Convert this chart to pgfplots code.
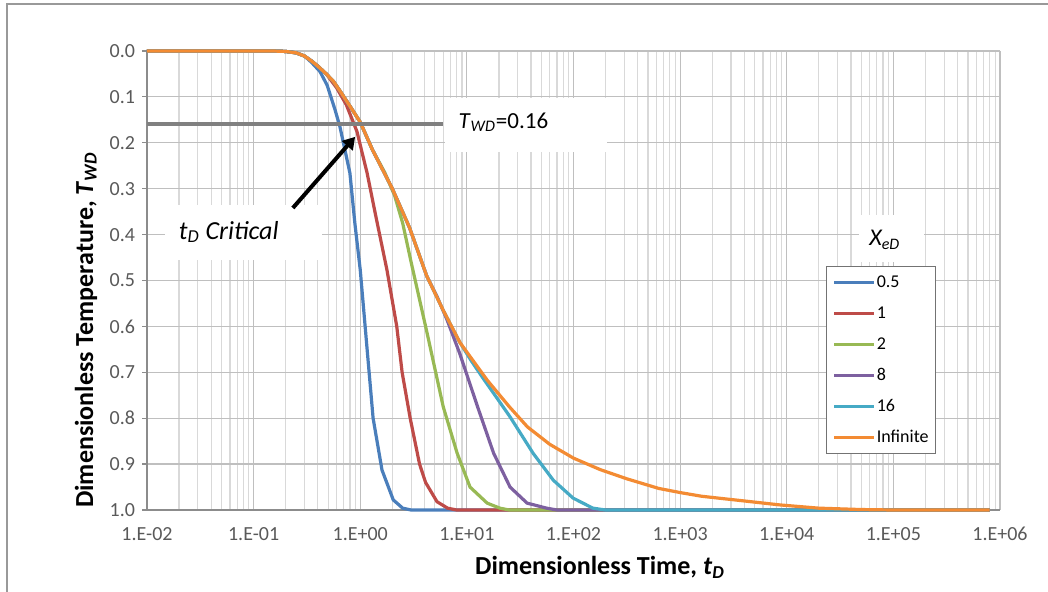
\documentclass[border=0pt]{standalone}
\usepackage{fontspec}
\setmainfont{Carlito}
\usepackage{pgfplots}
\pgfplotsset{compat=1.18}
\usetikzlibrary{arrows.meta}

\definecolor{sBlue}{HTML}{4A7EBB}
\definecolor{sRed}{HTML}{BE4B48}
\definecolor{sGreen}{HTML}{98B954}
\definecolor{sPurple}{HTML}{7D60A0}
\definecolor{sCyan}{HTML}{46AAC5}
\definecolor{sOrange}{HTML}{F38B33}
\definecolor{tickgray}{HTML}{595959}

\begin{document}
\begin{tikzpicture}
\useasboundingbox (0pt,0pt) rectangle (524pt,296pt);
\draw[black!40, line width=0.7pt] (3.5pt,0pt) -- (3.5pt,294pt) -- (524pt,294pt);
\begin{axis}[
  at={(73.5pt,41pt)}, anchor=south west,
  scale only axis, width=426.5pt, height=229.5pt,
  xmode=log, xmin=0.01, xmax=1e6,
  ymin=0, ymax=1, y dir=reverse,
  axis lines=left,
  axis line style={-, black!45, line width=0.7pt},
  xtick={1e-2,1e-1,1,1e1,1e2,1e3,1e4,1e5,1e6},
  xticklabels={1.E-02,1.E-01,1.E+00,1.E+01,1.E+02,1.E+03,1.E+04,1.E+05,1.E+06},
  minor xtick={0.02,0.03,0.04,0.05,0.06,0.07,0.08,0.09,
    0.2,0.3,0.4,0.5,0.6,0.7,0.8,0.9,2,3,4,5,6,7,8,9,
    20,30,40,50,60,70,80,90,200,300,400,500,600,700,800,900,
    2000,3000,4000,5000,6000,7000,8000,9000,
    20000,30000,40000,50000,60000,70000,80000,90000,
    200000,300000,400000,500000,600000,700000,800000,900000},
  ytick={0,0.1,0.2,0.3,0.4,0.5,0.6,0.7,0.8,0.9,1},
  yticklabels={0.0,0.1,0.2,0.3,0.4,0.5,0.6,0.7,0.8,0.9,1.0},
  tick label style={font=\fontsize{10}{11}\selectfont, text=tickgray},
  xticklabel style={yshift=-2.5pt},
  x tick style={draw=none},
  minor x tick style={draw=none},
  y tick style={black!45, line width=0.6pt},
  major tick length=2.5pt,
  tick align=outside,
  grid=both,
  major grid style={black!25, line width=0.6pt},
  minor grid style={black!15, line width=0.6pt},
  xlabel={Dimensionless Time, \textit{t}\textsubscript{\textit{D}}},
  ylabel={Dimensionless Temperature, \textit{T}\textsubscript{\textit{WD}}},
  label style={font=\fontsize{13}{15}\selectfont\bfseries},
  xlabel style={at={(axis description cs:0.531,-0.1416)}, anchor=base},
  ylabel style={at={(axis description cs:-0.0633,0.392)}, anchor=base},
  clip=false,
  legend style={at={(axis description cs:0.796,0.532)}, anchor=north west,
    draw=black!55, line width=0.6pt, font=\fontsize{9}{10}\selectfont,
    inner xsep=3pt, inner ysep=3.5pt, row sep=6.5pt,
    nodes={inner xsep=0.5pt, inner ysep=0pt, text height=7pt, text depth=2pt},
    cells={anchor=west}},
  legend image code/.code={\draw[#1] (0pt,0pt) -- (20pt,0pt);},
  every axis plot/.append style={line width=1.6pt},
]

\fill[white] (axis description cs:0.349,0.780) rectangle (axis description cs:0.539,0.898);
\fill[white] (axis description cs:0.021,0.545) rectangle (axis description cs:0.205,0.664);
\fill[white] (axis description cs:0.835,0.540) rectangle (axis description cs:0.911,0.643);

\addplot[sBlue] coordinates {(0.01,0) (0.1,0) (0.15,0) (0.2,0.001) (0.25,0.004) (0.3,0.011)
  (0.35,0.025) (0.42,0.045) (0.49,0.075) (0.58,0.128) (0.645,0.165) (0.8,0.266)
  (0.89,0.375) (1.0,0.477) (1.16,0.65) (1.32,0.8) (1.6,0.913) (2.04,0.978)
  (2.5,0.996) (3,1) (8e5,1)};
\addlegendentry{0.5}
\addplot[sRed] coordinates {(0.01,0) (0.1,0) (0.15,0) (0.2,0.001) (0.25,0.004) (0.3,0.011)
  (0.35,0.022) (0.4,0.033) (0.48,0.05) (0.6,0.08) (0.74,0.117) (0.93,0.175)
  (1.16,0.266) (1.4,0.36) (1.78,0.477) (2.2,0.6) (2.47,0.7) (2.94,0.8) (3.6,0.9)
  (4.1,0.94) (5.25,0.982) (6.6,0.996) (8,1) (8e5,1)};
\addlegendentry{1}
\addplot[sGreen] coordinates {(0.01,0) (0.1,0) (0.15,0) (0.2,0.001) (0.25,0.004) (0.3,0.011)
  (0.35,0.022) (0.4,0.033) (0.48,0.05) (0.56,0.066) (0.65,0.088) (0.8,0.12)
  (1.0,0.155) (1.3,0.215) (1.7,0.265) (2.1,0.315) (2.5,0.375) (3.0,0.46)
  (4.24,0.615) (6.0,0.775) (8.1,0.876) (10.7,0.95) (15.5,0.985) (20.4,0.996)
  (25,1) (8e5,1)};
\addlegendentry{2}
\addplot[sPurple] coordinates {(0.01,0) (0.1,0) (0.15,0) (0.2,0.001) (0.25,0.004) (0.3,0.011)
  (0.35,0.022) (0.4,0.033) (0.48,0.05) (0.56,0.066) (0.65,0.088) (0.8,0.12)
  (1.0,0.155) (1.3,0.215) (2.0,0.30) (2.9,0.385) (4.2,0.49) (5.25,0.535)
  (6.5,0.585) (8.6,0.66) (12.6,0.775) (17.8,0.876) (25.4,0.95) (36.7,0.985)
  (56,0.996) (70,1) (8e5,1)};
\addlegendentry{8}
\addplot[sCyan] coordinates {(0.01,0) (0.1,0) (0.15,0) (0.2,0.001) (0.25,0.004) (0.3,0.011)
  (0.35,0.022) (0.4,0.033) (0.48,0.05) (0.56,0.066) (0.65,0.088) (0.8,0.12)
  (1.0,0.155) (1.3,0.215) (2.0,0.30) (2.9,0.385) (4.2,0.49) (6,0.565) (8.6,0.635)
  (11,0.675) (14.1,0.712) (19,0.755) (25.4,0.797) (41.7,0.876) (64.6,0.935)
  (99,0.974) (152,0.996) (200,1) (8e5,1)};
\addlegendentry{16}
\addplot[sOrange] coordinates {(0.01,0) (0.1,0) (0.15,0) (0.2,0.001) (0.25,0.004) (0.3,0.011)
  (0.35,0.022) (0.4,0.033) (0.48,0.05) (0.56,0.066) (0.65,0.088) (0.8,0.12)
  (1.0,0.155) (1.3,0.215) (2.0,0.30) (2.9,0.385) (4.2,0.49) (6,0.565) (8.6,0.635)
  (15.5,0.717) (25,0.775) (37,0.819) (60,0.857) (100,0.887) (178,0.912)
  (316,0.932) (630,0.953) (1000,0.962) (1585,0.970) (3550,0.979) (8700,0.989)
  (2e4,0.996) (5e4,0.999) (1e5,1) (8e5,1)};
\addlegendentry{Infinite}

\addplot[black!50, line width=2pt, forget plot] coordinates {(0.01,0.16) (6,0.16)};

\node[anchor=west, font=\fontsize{11.5}{14}\selectfont] at (axis description cs:0.357,0.845)
  {\textit{T}\textsubscript{\textit{WD}}=0.16};
\node[anchor=west, font=\fontsize{13}{15}\selectfont\itshape] at (axis description cs:0.029,0.606)
  {t\textsubscript{D} Critical};
\node[font=\fontsize{12}{14}\selectfont\itshape] at (axis description cs:0.865,0.588)
  {X\textsubscript{eD}};
\draw[black, line width=2pt, -{Triangle[length=6pt, width=7pt]}]
  (axis description cs:0.171,0.658) -- (axis description cs:0.244,0.813);

\end{axis}
\end{tikzpicture}
\end{document}
